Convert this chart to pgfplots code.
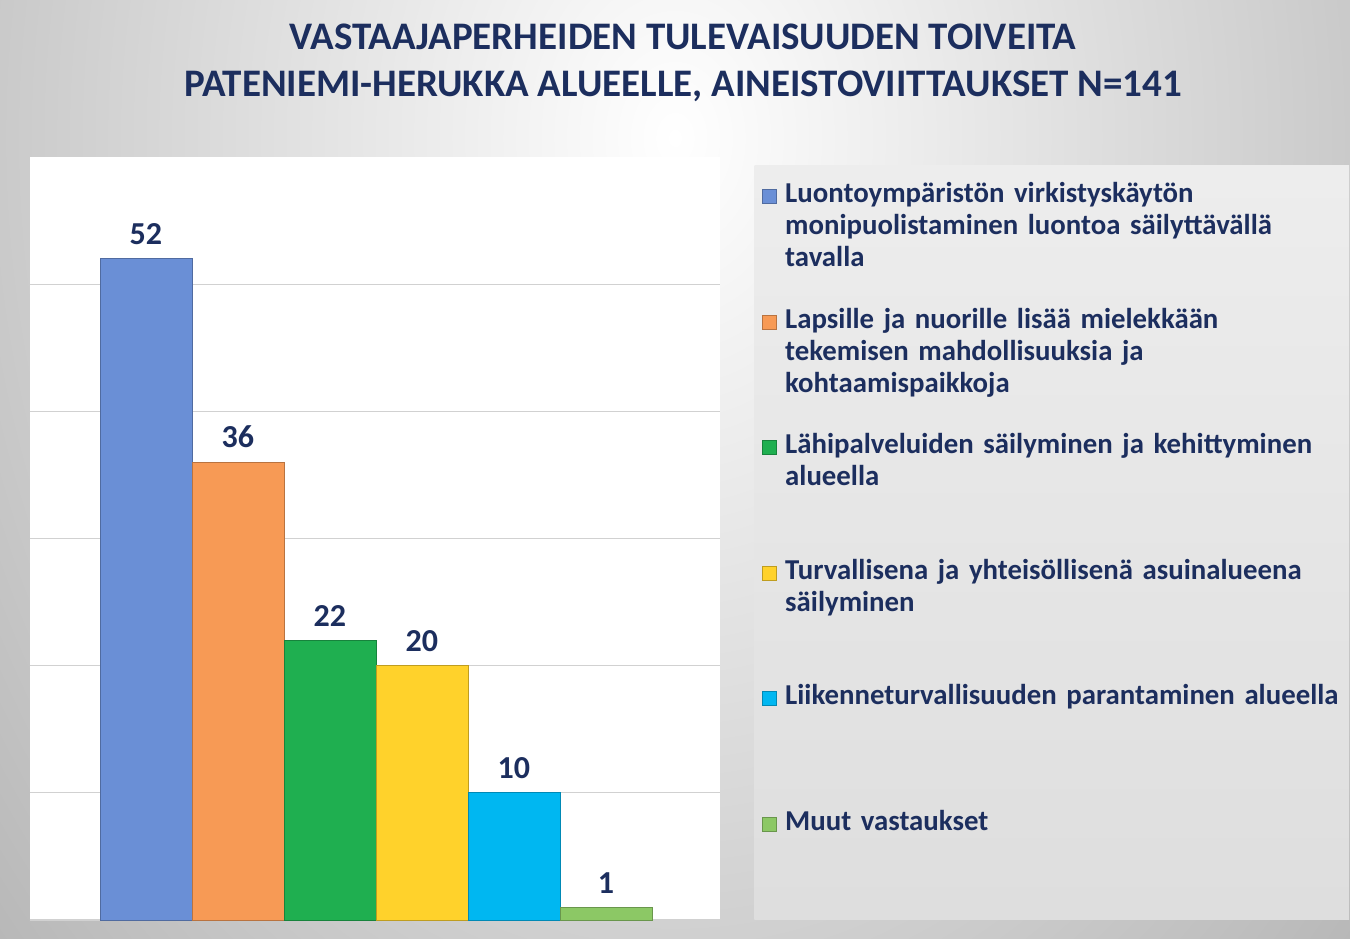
\documentclass[border=0pt]{standalone}
\usepackage{fontspec}
\setmainfont{Carlito}
\usepackage{pgfplots}
\pgfplotsset{compat=1.18}
\definecolor{navy}{HTML}{1C2E5E}
\definecolor{cA}{HTML}{6A8FD6}
\definecolor{cB}{HTML}{F79A55}
\definecolor{cC}{HTML}{1FAF50}
\definecolor{cD}{HTML}{FFD22B}
\definecolor{cE}{HTML}{00B7F1}
\definecolor{cF}{HTML}{8CC865}
\begin{document}
\begin{tikzpicture}
\useasboundingbox (0pt,0pt) rectangle (675pt,469pt);
\begin{scope}
\clip (0pt,0pt) rectangle (675pt,469pt);
\shade[inner color=white, outer color=black!30] (-150pt,-250pt) rectangle (825pt,1050pt);
\end{scope}
\node[font=\fontsize{19.5}{23.5}\selectfont\bfseries, text=navy, align=center] at (341.5pt,437.5pt) {VASTAAJAPERHEIDEN TULEVAISUUDEN TOIVEITA\\PATENIEMI-HERUKKA ALUEELLE, AINEISTOVIITTAUKSET N=141};
\begin{axis}[
  at={(15pt,9pt)}, anchor=south west,
  scale only axis, width=345pt, height=381.5pt,
  xmin=-1.26, xmax=6.24, ymin=0, ymax=60,
  ybar, bar width=46pt,
  axis line style={draw=none}, tick style={draw=none},
  xtick=\empty, ytick={0,10,20,30,40,50}, yticklabels={},
  ymajorgrids, major grid style={draw=black!18, line width=0.6pt},
  axis background/.style={fill=white},
  /pgf/number format/assume math mode=true,
  nodes near coords,
  nodes near coords style={font=\fontsize{16}{19}\selectfont\bfseries, text=navy, yshift=3.5pt},
  legend image code/.code={\fill[#1] (0pt,-0.5pt) rectangle (7pt,6.5pt);},
  legend style={at={(axis description cs:1.0493,0.9895)}, anchor=north west,
    draw=none, top color=black!7, bottom color=black!13,
    inner xsep=4pt, inner ysep=0pt, column sep=4pt, row sep=0pt,
    font=\fontsize{14.4}{16}\selectfont\bfseries, text=navy,
    nodes={inner sep=0pt, text width=278pt, align=left, text height=18.5pt, text depth=44.3pt},
    cells={anchor=base west}},
]
\addplot[fill=cA, draw=cA!75!black, bar shift=0pt] coordinates {(0,52)};
\addlegendentry{Luontoympäristön virkistyskäytön\\monipuolistaminen luontoa säilyttävällä\\tavalla}
\addplot[fill=cB, draw=cB!75!black, bar shift=0pt] coordinates {(1,36)};
\addlegendentry{Lapsille ja nuorille lisää mielekkään\\tekemisen mahdollisuuksia ja\\kohtaamispaikkoja}
\addplot[fill=cC, draw=cC!75!black, bar shift=0pt] coordinates {(2,22)};
\addlegendentry{Lähipalveluiden säilyminen ja kehittyminen\\alueella}
\addplot[fill=cD, draw=cD!75!black, bar shift=0pt] coordinates {(3,20)};
\addlegendentry{Turvallisena ja yhteisöllisenä asuinalueena\\säilyminen}
\addplot[fill=cE, draw=cE!75!black, bar shift=0pt] coordinates {(4,10)};
\addlegendentry{Liikenneturvallisuuden parantaminen alueella}
\addplot[fill=cF, draw=cF!75!black, bar shift=0pt] coordinates {(5,1)};
\addlegendentry{Muut vastaukset}
\end{axis}
\end{tikzpicture}
\end{document}
